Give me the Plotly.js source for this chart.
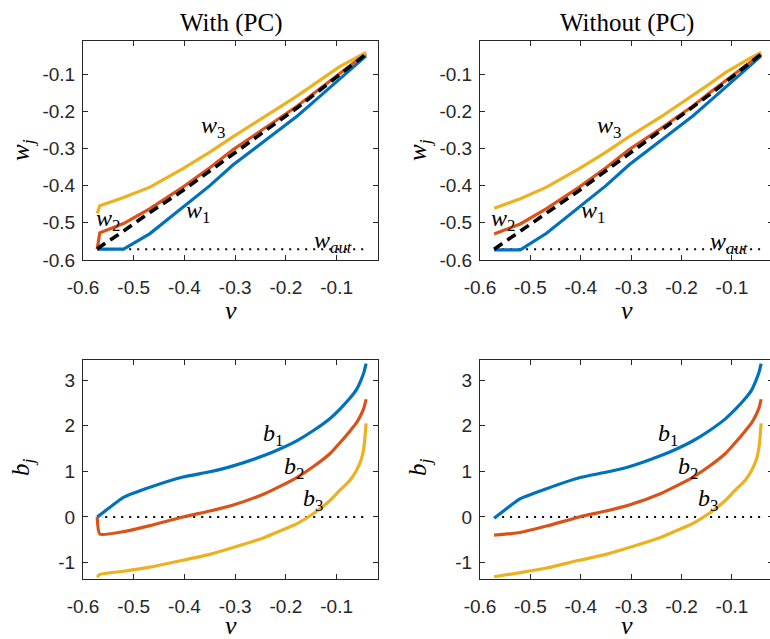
<!DOCTYPE html>
<html>
<head>
<meta charset="utf-8">
<script src="https://cdn.plot.ly/plotly-3.0.1.min.js"></script>
<style>
html,body{margin:0;padding:0;overflow:hidden;background:#fff;}
#chart{width:776px;height:639px;}
</style>
</head>
<body>
<div id="chart"></div>
<script>
// ---- data ----
const vWith = [-0.572, -0.567, -0.520, -0.468, -0.403, -0.350, -0.304, -0.242, -0.210, -0.177, -0.145, -0.113, -0.094, -0.074, -0.061, -0.052, -0.046, -0.042];
const w1With = [-0.571, -0.571, -0.571, -0.529, -0.457, -0.400, -0.344, -0.279, -0.245, -0.212, -0.174, -0.136, -0.113, -0.090, -0.074, -0.063, -0.056, -0.051];
const w2With = [-0.571, -0.527, -0.502, -0.462, -0.404, -0.352, -0.303, -0.247, -0.216, -0.185, -0.151, -0.118, -0.097, -0.077, -0.064, -0.055, -0.049, -0.046];
const w3With = [-0.475, -0.454, -0.432, -0.404, -0.354, -0.310, -0.268, -0.216, -0.187, -0.158, -0.127, -0.096, -0.080, -0.065, -0.055, -0.049, -0.045, -0.042];
const diagWith = [-0.571, -0.565, -0.522, -0.472, -0.413, -0.360, -0.314, -0.254, -0.222, -0.190, -0.156, -0.122, -0.101, -0.080, -0.066, -0.057, -0.050, -0.046];
const b1With = [0.00, 0.04, 0.43, 0.65, 0.875, 0.99, 1.12, 1.35, 1.50, 1.68, 1.90, 2.16, 2.36, 2.60, 2.79, 3.00, 3.18, 3.36];
const b2With = [0.00, -0.375, -0.32, -0.19, 0.00, 0.13, 0.26, 0.51, 0.68, 0.875, 1.11, 1.39, 1.62, 1.88, 2.06, 2.24, 2.40, 2.58];
const b3With = [-1.32, -1.26, -1.19, -1.10, -0.95, -0.82, -0.67, -0.45, -0.30, -0.14, 0.08, 0.36, 0.58, 0.80, 1.02, 1.24, 1.55, 2.05];

const vNo = [-0.572, -0.520, -0.468, -0.403, -0.350, -0.304, -0.242, -0.210, -0.177, -0.145, -0.113, -0.094, -0.074, -0.061, -0.052, -0.046, -0.042];
const w1No = [-0.573, -0.573, -0.528, -0.457, -0.400, -0.344, -0.279, -0.245, -0.212, -0.174, -0.136, -0.113, -0.090, -0.074, -0.063, -0.056, -0.051];
const w2No = [-0.530, -0.503, -0.462, -0.404, -0.352, -0.303, -0.247, -0.216, -0.185, -0.151, -0.118, -0.097, -0.077, -0.064, -0.055, -0.049, -0.046];
const w3No = [-0.461, -0.435, -0.404, -0.354, -0.310, -0.268, -0.216, -0.187, -0.158, -0.127, -0.096, -0.080, -0.065, -0.055, -0.049, -0.045, -0.042];
const diagNo = [-0.571, -0.522, -0.472, -0.413, -0.360, -0.314, -0.254, -0.222, -0.190, -0.156, -0.122, -0.101, -0.080, -0.066, -0.057, -0.050, -0.046];
const b1No = [-0.03, 0.40, 0.62, 0.86, 0.98, 1.10, 1.34, 1.49, 1.67, 1.89, 2.15, 2.35, 2.59, 2.78, 3.00, 3.18, 3.36];
const b2No = [-0.40, -0.34, -0.20, 0.00, 0.13, 0.26, 0.51, 0.68, 0.875, 1.11, 1.39, 1.62, 1.88, 2.06, 2.24, 2.40, 2.58];
const b3No = [-1.31, -1.22, -1.12, -0.95, -0.82, -0.67, -0.45, -0.30, -0.14, 0.08, 0.36, 0.58, 0.80, 1.02, 1.24, 1.55, 2.05];

const refV = [-0.572, -0.042];
const wAut = [-0.571, -0.571];
const zeroB = [0, 0];

const xTickVals = [-0.6, -0.5, -0.4, -0.3, -0.2, -0.1];
const xTickText = ["-0.6", "-0.5", "-0.4", "-0.3", "-0.2", "-0.1"];
const wTickVals = [-0.6, -0.5, -0.4, -0.3, -0.2, -0.1];
const wTickText = ["-0.6", "-0.5", "-0.4", "-0.3", "-0.2", "-0.1"];
const bTickVals = [-1, 0, 1, 2, 3];
const bTickText = ["-1", "0", "1", "2", "3"];

const panelTitles = ["With (PC)", "Without (PC)"];

// ---- styling ----
const BLUE = "#0072BD", RED = "#D95319", YEL = "#EDB120";
const LW = 3.2;

function line(x, y, color, xa, ya, dash, width, smooth) {
  const ln = {color: color, width: width || LW, dash: dash || "solid"};
  if (smooth) { ln.shape = "spline"; ln.smoothing = smooth; }
  return {x: x, y: y, mode: "lines", type: "scatter", xaxis: xa, yaxis: ya,
    line: ln, hoverinfo: "skip", showlegend: false};
}

const DOT = "2px,6px", DASH = "10px,6px", SM = 0.5;
const traces = [
  line(refV, wAut, "#000", "x", "y", DOT, 2),
  line(vWith, w1With, BLUE, "x", "y"),
  line(vWith, w2With, RED, "x", "y"),
  line(vWith, w3With, YEL, "x", "y"),
  line(vWith, diagWith, "#000", "x", "y", DASH, 3.6),

  line(refV, wAut, "#000", "x2", "y2", DOT, 2),
  line(vNo, w1No, BLUE, "x2", "y2"),
  line(vNo, w2No, RED, "x2", "y2"),
  line(vNo, w3No, YEL, "x2", "y2"),
  line(vNo, diagNo, "#000", "x2", "y2", DASH, 3.6),

  line(refV, zeroB, "#000", "x3", "y3", DOT, 2),
  line(vWith, b1With, BLUE, "x3", "y3", null, null, SM),
  line(vWith, b2With, RED, "x3", "y3", null, null, SM),
  line(vWith, b3With, YEL, "x3", "y3", null, null, SM),

  line(refV, zeroB, "#000", "x4", "y4", DOT, 2),
  line(vNo, b1No, BLUE, "x4", "y4", null, null, SM),
  line(vNo, b2No, RED, "x4", "y4", null, null, SM),
  line(vNo, b3No, YEL, "x4", "y4", null, null, SM)
];

const W = 776, H = 639;
const tickFont = {family: "Liberation Sans, Arial, sans-serif", size: 19, color: "#262626"};
function xax(domL, domR, anchor) {
  return {domain: [domL / W, domR / W], anchor: anchor, range: [-0.6, -0.0185],
    tickvals: xTickVals, ticktext: xTickText, ticks: "inside", ticklen: 5, tickcolor: "#262626",
    showline: true, linecolor: "#262626", linewidth: 1, mirror: "ticks", showgrid: false, zeroline: false,
    tickfont: tickFont, ticklabelstandoff: 10};
}
function yax(top, bot, anchor, range, tv, tt) {
  return {domain: [1 - bot / H, 1 - top / H], anchor: anchor, range: range,
    tickvals: tv, ticktext: tt, ticks: "inside", ticklen: 5, tickcolor: "#262626",
    showline: true, linecolor: "#262626", linewidth: 1, mirror: "ticks", showgrid: false, zeroline: false,
    tickfont: tickFont, ticklabelstandoff: 3};
}

const serif = "Liberation Serif, Times New Roman, serif";
function ann(text, x, y, xref, yref, size, extra) {
  return Object.assign({text: text, x: x, y: y, xref: xref, yref: yref, showarrow: false,
    xanchor: "center", yanchor: "middle",
    font: {family: serif, size: size, color: "#000"}}, extra || {});
}

const annotations = [
  ann(panelTitles[0], (83 + 378) / 2 / W, 1 - 23 / H, "paper", "paper", 25),
  ann(panelTitles[1], (480 + 773) / 2 / W, 1 - 23 / H, "paper", "paper", 25),
  ann("<i>v</i>", 231 / W, 1 - 311 / H, "paper", "paper", 26),
  ann("<i>v</i>", 627 / W, 1 - 311 / H, "paper", "paper", 26),
  ann("<i>v</i>", 231 / W, 1 - 625 / H, "paper", "paper", 26),
  ann("<i>v</i>", 627 / W, 1 - 625 / H, "paper", "paper", 26),
  ann("<i>w<sub>j</sub></i>", 22 / W, 1 - 150 / H, "paper", "paper", 25, {textangle: -90}),
  ann("<i>w<sub>j</sub></i>", 419 / W, 1 - 150 / H, "paper", "paper", 25, {textangle: -90}),
  ann("<i>b<sub>j</sub></i>", 22 / W, 1 - 467 / H, "paper", "paper", 25, {textangle: -90}),
  ann("<i>b<sub>j</sub></i>", 419 / W, 1 - 467 / H, "paper", "paper", 25, {textangle: -90}),
  // curve labels
  ann("<i>w</i><sub>3</sub>", -0.344, -0.242, "x", "y", 24),
  ann("<i>w</i><sub>2</sub>", -0.551, -0.492, "x", "y", 24),
  ann("<i>w</i><sub>1</sub>", -0.373, -0.470, "x", "y", 24),
  ann("<i>w<sub>aut</sub></i>", -0.107, -0.551, "x", "y", 24),
  ann("<i>w</i><sub>3</sub>", -0.343, -0.242, "x2", "y2", 24),
  ann("<i>w</i><sub>2</sub>", -0.554, -0.492, "x2", "y2", 24),
  ann("<i>w</i><sub>1</sub>", -0.376, -0.470, "x2", "y2", 24),
  ann("<i>w<sub>aut</sub></i>", -0.105, -0.553, "x2", "y2", 24),
  ann("<i>b</i><sub>1</sub>", -0.225, 1.80, "x3", "y3", 24),
  ann("<i>b</i><sub>2</sub>", -0.185, 1.07, "x3", "y3", 24),
  ann("<i>b</i><sub>3</sub>", -0.146, 0.37, "x3", "y3", 24),
  ann("<i>b</i><sub>1</sub>", -0.227, 1.80, "x4", "y4", 24),
  ann("<i>b</i><sub>2</sub>", -0.187, 1.07, "x4", "y4", 24),
  ann("<i>b</i><sub>3</sub>", -0.148, 0.37, "x4", "y4", 24)
];

const layout = {
  width: W, height: H, margin: {l: 0, r: 0, t: 0, b: 0},
  paper_bgcolor: "#fff", plot_bgcolor: "#fff", showlegend: false,
  xaxis: xax(83, 378, "y"), yaxis: yax(41, 260, "x", [-0.6, -0.011], wTickVals, wTickText),
  xaxis2: xax(480, 773, "y2"), yaxis2: yax(41, 260, "x2", [-0.6, -0.011], wTickVals, wTickText),
  xaxis3: xax(83, 378, "y3"), yaxis3: yax(360, 579, "x3", [-1.36, 3.44], bTickVals, bTickText),
  xaxis4: xax(480, 773, "y4"), yaxis4: yax(360, 579, "x4", [-1.36, 3.44], bTickVals, bTickText),
  annotations: annotations
};

Plotly.newPlot("chart", traces, layout, {staticPlot: true, displayModeBar: false});
</script>
</body>
</html>
